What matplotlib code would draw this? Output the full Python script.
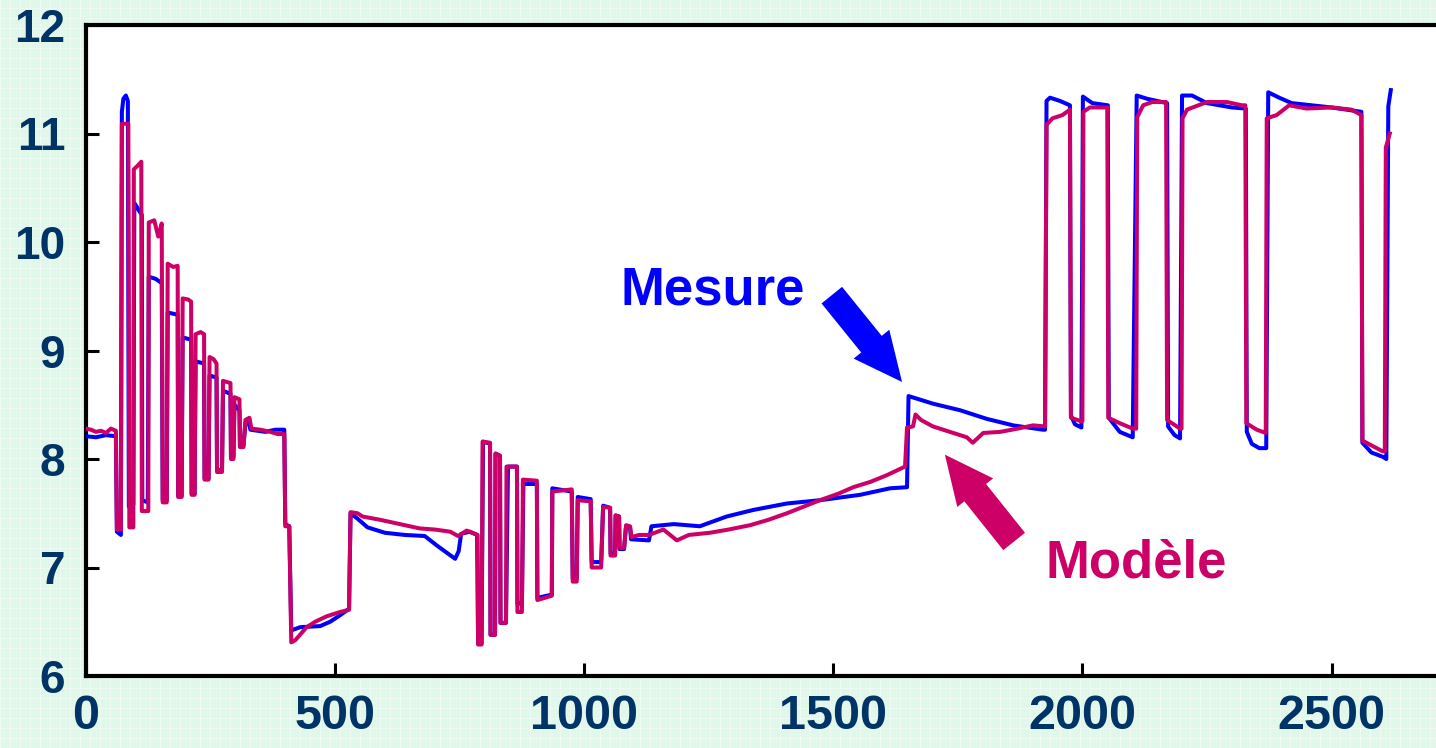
import matplotlib
matplotlib.use("Agg")
import matplotlib.pyplot as plt

# ---------------- data ----------------
mesure_x = [0, 20, 40, 60, 62, 70, 72, 75, 80, 84, 86, 95, 97, 105, 112, 113, 124, 126, 140, 152,
            154, 162, 164, 184, 185, 192, 194, 211, 212, 218, 220, 237, 238, 246, 248, 262, 263, 273,
            275, 290, 291, 296, 298, 308, 309, 316, 320, 326, 330, 360, 380, 398, 400, 408, 412, 430,
            470, 490, 510, 528, 531, 545, 565, 600, 640, 680, 705, 720, 741, 748, 753, 770, 785, 787,
            794, 797, 811, 812, 821, 822, 831, 832, 843, 847, 865, 866, 875, 878, 905, 906, 935, 936,
            975, 977, 985, 987, 1013, 1015, 1034, 1038, 1052, 1053, 1062, 1063, 1070, 1071, 1080,
            1084, 1092, 1094, 1130, 1135, 1180, 1232, 1286, 1339, 1407, 1473, 1554, 1614, 1648, 1651,
            1700, 1754, 1808, 1861, 1921, 1925, 1928, 1935, 1955, 1975, 1977, 1985, 1998, 2001, 2020,
            2051, 2053, 2075, 2101, 2109, 2130, 2170, 2172, 2185, 2196, 2200, 2220, 2250, 2300, 2328,
            2330, 2340, 2355, 2369, 2373, 2395, 2420, 2460, 2500, 2560, 2562, 2580, 2603, 2610, 2614,
            2619]
mesure_y = [8.21, 8.20, 8.22, 8.21, 7.33, 7.30, 11.20, 11.32, 11.35, 11.30, 7.56, 7.58, 10.36, 10.30,
            10.25, 7.62, 7.60, 9.68, 9.66, 9.62, 7.62, 7.62, 9.35, 9.33, 7.66, 7.66, 9.12, 9.10, 7.68,
            7.68, 8.90, 8.88, 7.82, 7.82, 8.77, 8.75, 7.90, 7.90, 8.63, 8.60, 8.02, 8.02, 8.50, 8.45,
            8.12, 8.12, 8.33, 8.35, 8.27, 8.25, 8.27, 8.27, 7.40, 7.38, 6.42, 6.45, 6.46, 6.50, 6.56,
            6.62, 7.50, 7.45, 7.37, 7.32, 7.30, 7.29, 7.20, 7.15, 7.08, 7.15, 7.31, 7.33, 7.30, 6.30,
            6.30, 8.16, 8.14, 6.38, 6.38, 8.05, 8.03, 6.49, 6.49, 7.93, 7.93, 6.66, 6.68, 7.77, 7.77,
            6.72, 6.75, 7.73, 7.70, 6.90, 6.90, 7.65, 7.63, 7.05, 7.05, 7.57, 7.55, 7.13, 7.13, 7.48,
            7.47, 7.17, 7.17, 7.38, 7.37, 7.26, 7.25, 7.38, 7.40, 7.38, 7.47, 7.53, 7.59, 7.62, 7.67,
            7.73, 7.74, 8.58, 8.51, 8.45, 8.37, 8.31, 8.27, 8.27, 11.30, 11.33, 11.30, 11.26, 8.40,
            8.32, 8.29, 11.34, 11.28, 11.26, 8.38, 8.25, 8.20, 11.35, 11.32, 11.28, 8.30, 8.22, 8.19,
            11.35, 11.35, 11.28, 11.24, 11.23, 8.25, 8.14, 8.10, 8.10, 11.38, 11.33, 11.28, 11.26,
            11.24, 11.20, 8.15, 8.06, 8.02, 8.00, 11.25, 11.40]

modele_x = [0, 10, 20, 30, 40, 50, 60, 62, 70, 72, 85, 87, 95, 96, 103, 111, 112, 125, 126, 137, 145,
            152, 154, 162, 164, 175, 184, 185, 192, 194, 205, 211, 212, 218, 220, 230, 237, 238, 246,
            248, 256, 262, 263, 273, 275, 290, 291, 296, 298, 308, 309, 316, 320, 328, 332, 350, 370,
            385, 398, 400, 408, 412, 420, 443, 460, 483, 510, 528, 531, 545, 555, 590, 620, 670, 700,
            731, 747, 764, 781, 786, 787, 794, 796, 811, 812, 821, 822, 831, 832, 843, 844, 865, 866,
            875, 877, 905, 906, 935, 936, 975, 977, 985, 987, 1013, 1015, 1034, 1038, 1052, 1053,
            1062, 1063, 1070, 1071, 1080, 1084, 1092, 1095, 1110, 1130, 1159, 1186, 1210, 1252, 1290,
            1333, 1370, 1407, 1440, 1473, 1510, 1540, 1575, 1607, 1644, 1648, 1660, 1665, 1676, 1700,
            1741, 1768, 1780, 1801, 1835, 1870, 1901, 1925, 1928, 1940, 1960, 1975, 1977, 1996, 2000,
            2002, 2015, 2050, 2052, 2075, 2101, 2108, 2110, 2122, 2140, 2168, 2170, 2196, 2199, 2201,
            2210, 2250, 2290, 2320, 2327, 2329, 2350, 2368, 2370, 2390, 2415, 2450, 2500, 2540, 2560,
            2562, 2603, 2607, 2609, 2617]
modele_y = [8.28, 8.27, 8.25, 8.26, 8.24, 8.28, 8.26, 7.35, 7.35, 11.09, 11.09, 7.37, 7.37, 10.67,
            10.70, 10.74, 7.52, 7.52, 10.18, 10.20, 10.05, 10.17, 7.60, 7.60, 9.80, 9.77, 9.78, 7.65,
            7.65, 9.48, 9.47, 9.45, 7.67, 7.67, 9.15, 9.17, 9.15, 7.81, 7.81, 8.94, 8.92, 8.88, 7.88,
            7.88, 8.72, 8.70, 8.00, 8.00, 8.57, 8.55, 8.11, 8.11, 8.36, 8.38, 8.28, 8.27, 8.25, 8.23,
            8.23, 7.38, 7.38, 6.31, 6.33, 6.45, 6.50, 6.55, 6.59, 6.61, 7.51, 7.50, 7.47, 7.44, 7.41,
            7.36, 7.35, 7.33, 7.29, 7.34, 7.31, 7.30, 6.29, 6.29, 8.16, 8.15, 6.38, 6.38, 8.05, 8.03,
            6.49, 6.49, 7.93, 7.93, 6.59, 6.59, 7.81, 7.80, 6.70, 6.74, 7.70, 7.72, 6.87, 6.87, 7.62,
            7.61, 7.00, 7.00, 7.56, 7.55, 7.11, 7.11, 7.48, 7.47, 7.18, 7.18, 7.39, 7.38, 7.28, 7.30,
            7.30, 7.35, 7.25, 7.30, 7.32, 7.35, 7.39, 7.44, 7.50, 7.56, 7.62, 7.68, 7.74, 7.79, 7.85,
            7.93, 8.29, 8.30, 8.41, 8.36, 8.30, 8.24, 8.20, 8.15, 8.24, 8.25, 8.28, 8.31, 8.30, 11.08,
            11.14, 11.17, 11.22, 8.38, 8.35, 8.35, 11.20, 11.24, 11.24, 8.38, 8.33, 8.28, 8.28, 11.15,
            11.26, 11.29, 11.29, 8.36, 8.28, 8.28, 11.14, 11.22, 11.29, 11.29, 11.26, 11.26, 8.33,
            8.27, 8.24, 11.14, 11.17, 11.26, 11.23, 11.24, 11.22, 11.17, 8.17, 8.07, 8.07, 10.87,
            11.00]

x_ticks = [0, 500, 1000, 1500, 2000, 2500]
y_ticks = [6, 7, 8, 9, 10, 11, 12]

BLUE = "#0000ff"
MAG = "#cc0066"
NAVY = "#003366"
FONT = ["Liberation Sans", "DejaVu Sans"]

plt.rcParams["font.family"] = FONT

W, H = 1436, 748
fig = plt.figure(figsize=(W / 100, H / 100), dpi=100)
fig.patch.set_facecolor("#e0f8ea")

# decorative background grid
bg = fig.add_axes([0, 0, 1, 1], zorder=-10)
bg.set_xlim(0, W)
bg.set_ylim(0, H)
bg.axis("off")
for gx in range(0, W, 10):
    bg.axvline(gx, color="white", lw=0.6, alpha=0.5)
for gy in range(0, H, 10):
    bg.axhline(gy, color="white", lw=0.6, alpha=0.5)

left, bottom, top = 86 / W, (H - 676) / H, (H - 25) / H
ax = fig.add_axes([left, bottom, 1 - left, top - bottom])
ax.set_facecolor("white")

ax.plot(mesure_x, mesure_y, color=BLUE, lw=2.9, solid_joinstyle="round", zorder=3)
ax.plot(modele_x, modele_y, color=MAG, lw=2.9, solid_joinstyle="round", zorder=4)

ax.set_xlim(0, (W - 86) / 0.4982)
ax.set_ylim(6, 12)
ax.set_xticks(x_ticks)
ax.set_yticks(y_ticks)
ax.tick_params(direction="in", length=9.5, width=2.2, colors="black",
               labelcolor=NAVY)
ax.tick_params(axis="y", pad=15, labelsize=33)
ax.tick_params(axis="x", pad=13, labelsize=35)
for lab in ax.get_xticklabels() + ax.get_yticklabels():
    lab.set_fontweight("bold")
    lab.set_family(FONT)
for side in ["left", "bottom", "top"]:
    ax.spines[side].set_linewidth(3)
ax.spines["right"].set_visible(False)

ax.text(1072, 9.42, "Mesure", color=BLUE, fontsize=38, fontweight="bold",
        ha="left", va="baseline", family=FONT)
ax.text(1925, 6.91, "Modèle", color=MAG, fontsize=38, fontweight="bold",
        ha="left", va="baseline", family=FONT)

ax.annotate("", xy=(1638, 8.71), xytext=(1497, 9.51),
            arrowprops=dict(arrowstyle="simple,head_length=3.5,head_width=3.3,tail_width=1.9",
                            color=BLUE, mutation_scale=10, shrinkA=0, shrinkB=0, lw=0))
ax.annotate("", xy=(1724, 8.04), xytext=(1863, 7.24),
            arrowprops=dict(arrowstyle="simple,head_length=3.5,head_width=3.3,tail_width=2.0",
                            color=MAG, mutation_scale=10, shrinkA=0, shrinkB=0, lw=0))

fig.savefig("out.png", dpi=100, facecolor=fig.get_facecolor())
